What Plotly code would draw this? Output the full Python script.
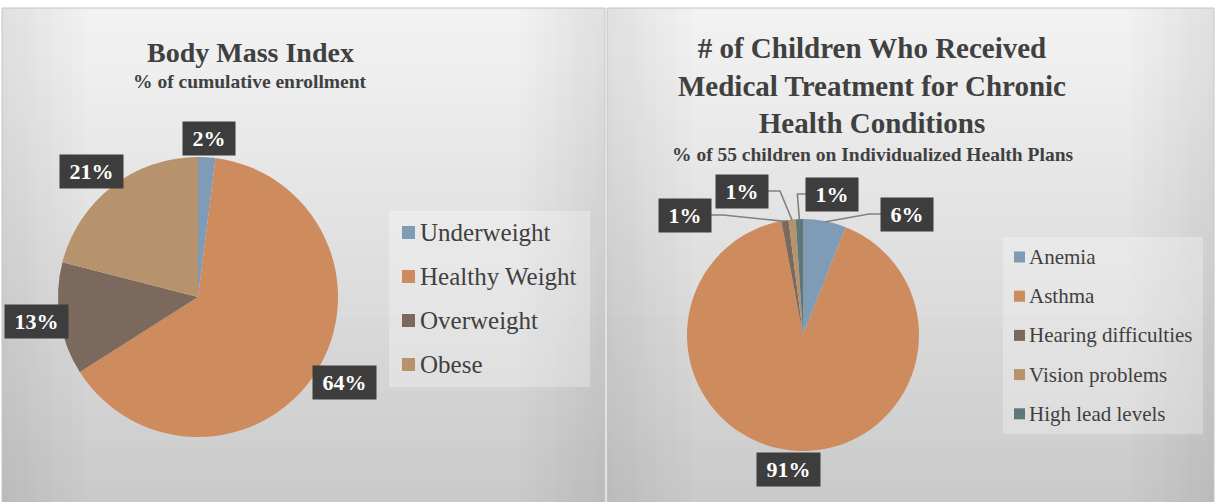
import math
import plotly.graph_objects as go

# ---------------- data ----------------
bmi_labels = ["Underweight", "Healthy Weight", "Overweight", "Obese"]
bmi_values = [2, 64, 13, 21]

chronic_labels = ["Anemia", "Asthma", "Hearing difficulties", "Vision problems", "High lead levels"]
chronic_values = [6, 91, 1, 1, 1]

bmi_title = "Body Mass Index"
bmi_subtitle = "% of cumulative enrollment"
chronic_title = "# of Children Who Received<br>Medical Treatment for Chronic<br>Health Conditions"
chronic_subtitle = "% of 55 children on Individualized Health Plans"

# ---------------- styles / layout ----------------
W, H = 1215, 502
bmi_colors = ["#7f9bb6", "#cd8b5e", "#7b695d", "#b6936c"]
chronic_colors = ["#7f9bb6", "#cd8b5e", "#7b695d", "#b6936c", "#5f7779"]
TXT = "#404040"
SERIF = "Liberation Serif, Times New Roman, serif"

PANELS = [(2, 605), (607, 1214)]
LEFT_PIE = dict(cx=198, cy=297, r=140, panel=PANELS[0])
RIGHT_PIE = dict(cx=803, cy=335, r=116, panel=PANELS[1])
# manual label offsets (px from pie centre) for the crowded small slices of the right pie
RIGHT_LABEL_OFFSETS = {0: (104, -121), 2: (-118, -120), 3: (-61, -144), 4: (29, -141)}

LABEL_FONT = 22
BORDERPAD = 4


def X(px):
    return px / W


def Y(py):
    return 1 - py / H


def mid_angles(values):
    tot = sum(values)
    out, cum = [], 0
    for v in values:
        out.append((cum + v / 2) / tot * 360)
        cum += v
    return out


def box_size(text):
    nd = len(text) - 1
    w = (0.5 * nd + 1.0 + 0.5) * LABEL_FONT + 2 * BORDERPAD
    return w, 34


shapes = []
annotations = []

# background panels with gradient
top = 8
N = 40
for (x0, x1) in PANELS:
    for i in range(N):
        ya = top + (H - top) * i / N
        yb = top + (H - top) * (i + 1) / N + 0.5
        g = int(round(242 - (242 - 202) * (i / (N - 1)) ** 1.1))
        shapes.append(dict(type="rect", xref="paper", yref="paper", layer="below",
                           x0=X(x0), x1=X(x1), y0=Y(yb), y1=Y(ya),
                           line=dict(width=0), fillcolor=f"rgb({g},{g},{g})"))
    # darker towards the side edges
    M, sw = 12, 7
    for k in range(M):
        a = 0.07 * (1 - k / M)
        for (xa, xb) in [(x0 + k * sw, x0 + (k + 1) * sw), (x1 - (k + 1) * sw, x1 - k * sw)]:
            shapes.append(dict(type="rect", xref="paper", yref="paper", layer="below",
                               x0=X(xa), x1=X(xb), y0=Y(H), y1=Y(top),
                               line=dict(width=0), fillcolor=f"rgba(0,0,0,{a:.3f})"))
    shapes.append(dict(type="rect", xref="paper", yref="paper", layer="below",
                       x0=X(x0), x1=X(x1), y0=Y(H + 2), y1=Y(top),
                       line=dict(width=1, color="#c4c4c4"), fillcolor="rgba(0,0,0,0)"))

fig = go.Figure()


def add_pie(labels, values, colors, geo):
    cx, cy, r = geo["cx"], geo["cy"], geo["r"]
    fig.add_trace(go.Pie(
        labels=labels, values=values, sort=False, direction="clockwise", rotation=0,
        marker=dict(colors=colors, line=dict(width=0)),
        textinfo="none", hoverinfo="label+percent", showlegend=False,
        domain=dict(x=[X(cx - r), X(cx + r)], y=[Y(cy + r), Y(cy - r)]),
    ))


add_pie(bmi_labels, bmi_values, bmi_colors, LEFT_PIE)
add_pie(chronic_labels, chronic_values, chronic_colors, RIGHT_PIE)


def label_annot(px, py, text):
    annotations.append(dict(
        x=X(px), y=Y(py), xref="paper", yref="paper", xanchor="center", yanchor="middle",
        text="\u00a0" + text + "\u00a0", showarrow=False,
        font=dict(family=SERIF, size=LABEL_FONT, color="white", weight="bold"),
        bgcolor="#3d3d3d", borderpad=BORDERPAD))


def auto_label_pos(geo, ang, text, gap=2):
    cx, cy, r = geo["cx"], geo["cy"], geo["r"]
    dx, dy = math.sin(math.radians(ang)), -math.cos(math.radians(ang))
    w, h = box_size(text)
    px = cx + dx * (r + gap) + dx * w / 2
    py = cy + dy * (r + gap) + dy * h / 2
    # keep the label inside its panel
    p0, p1 = geo["panel"]
    px = min(max(px, p0 + 3 + w / 2), p1 - 3 - w / 2)
    return px, py


# left pie labels
for v, ang in zip(bmi_values, mid_angles(bmi_values)):
    t = f"{v}%"
    px, py = auto_label_pos(LEFT_PIE, ang, t)
    label_annot(px, py, t)

# right pie labels with leader lines
g = RIGHT_PIE
for i, (v, ang) in enumerate(zip(chronic_values, mid_angles(chronic_values))):
    t = f"{v}%"
    if i in RIGHT_LABEL_OFFSETS:
        ox, oy = RIGHT_LABEL_OFFSETS[i]
        px, py = g["cx"] + ox, g["cy"] + oy
        w, h = box_size(t)
        sx = g["cx"] + math.sin(math.radians(ang)) * (g["r"] - 1)
        sy = g["cy"] - math.cos(math.radians(ang)) * (g["r"] - 1)
        if px > sx:
            ex = px - w / 2
            elx = ex - 12 if ex - 12 > sx else sx - 2
        else:
            ex = px + w / 2
            elx = ex + 12
        path = f"M {X(sx)},{Y(sy)} L {X(elx)},{Y(py)} L {X(ex)},{Y(py)}"
        shapes.append(dict(type="path", xref="paper", yref="paper", layer="above",
                           path=path, line=dict(color="#808080", width=1.6)))
    else:
        px, py = auto_label_pos(g, ang, t)
    label_annot(px, py, t)

# titles
annotations.append(dict(x=X(250), y=Y(52), xref="paper", yref="paper", xanchor="center", yanchor="middle",
                        text=bmi_title, showarrow=False,
                        font=dict(family=SERIF, size=28, color=TXT, weight="bold")))
annotations.append(dict(x=X(250), y=Y(82), xref="paper", yref="paper", xanchor="center", yanchor="middle",
                        text=bmi_subtitle, showarrow=False,
                        font=dict(family=SERIF, size=19.5, color=TXT, weight="bold")))
annotations.append(dict(x=X(872), y=Y(86), xref="paper", yref="paper", xanchor="center", yanchor="middle",
                        text=chronic_title, showarrow=False,
                        font=dict(family=SERIF, size=29, color=TXT, weight="bold")))
annotations.append(dict(x=X(872), y=Y(155), xref="paper", yref="paper", xanchor="center", yanchor="middle",
                        text=chronic_subtitle, showarrow=False,
                        font=dict(family=SERIF, size=19.5, color=TXT, weight="bold")))


# legends (drawn manually for exact spacing)
def add_legend(labels, colors, box, first_y, step, sq, sq_x, txt_x, fsize):
    x0, y0, x1, y1 = box
    shapes.append(dict(type="rect", xref="paper", yref="paper", layer="above",
                       x0=X(x0), x1=X(x1), y0=Y(y1), y1=Y(y0),
                       line=dict(width=0), fillcolor="rgba(255,255,255,0.28)"))
    for k, (lab, col) in enumerate(zip(labels, colors)):
        yc = first_y + k * step
        shapes.append(dict(type="rect", xref="paper", yref="paper", layer="above",
                           x0=X(sq_x), x1=X(sq_x + sq), y0=Y(yc + sq / 2), y1=Y(yc - sq / 2),
                           line=dict(width=0), fillcolor=col))
        annotations.append(dict(x=X(txt_x), y=Y(yc), xref="paper", yref="paper",
                                xanchor="left", yanchor="middle", text=lab, showarrow=False,
                                font=dict(family=SERIF, size=fsize, color=TXT)))


add_legend(bmi_labels, bmi_colors, (389, 211, 590, 387), 232.5, 44, 13, 402, 418, 25)
add_legend(chronic_labels, chronic_colors, (1003, 237, 1203, 434), 257, 39.2, 11, 1014, 1027, 21)

fig.update_layout(
    width=W, height=H, margin=dict(l=0, r=0, t=0, b=0),
    paper_bgcolor="white", plot_bgcolor="white",
    shapes=shapes, annotations=annotations, showlegend=False,
)

fig.write_html("out.html", config={"displayModeBar": False},
               post_script="document.body.style.margin='0';document.body.style.overflow='hidden';")
